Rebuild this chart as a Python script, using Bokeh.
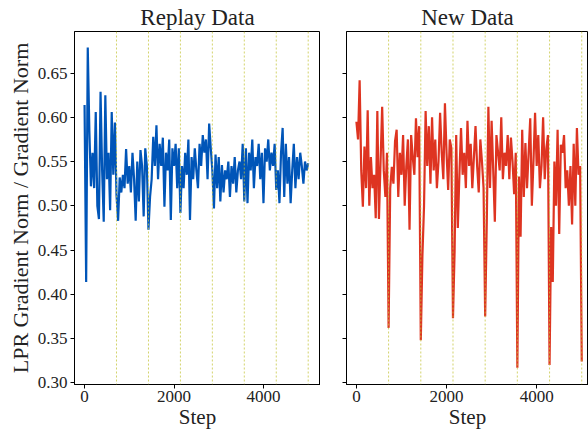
import numpy as np
from bokeh.plotting import figure
from bokeh.layouts import row
from bokeh.models import Range1d, FixedTicker, Span, PrintfTickFormatter
from bokeh.embed import file_html
from bokeh.resources import INLINE

# ---------------- data ----------------
n_points = 141
steps = np.linspace(0, 5000, n_points)
task_boundaries = [714, 1429, 2143, 2857, 3571, 4286, 5000]

replay_ratio = [
    0.614, 0.414, 0.679, 0.585, 0.522, 0.560, 0.520, 0.606, 0.500, 0.485,
    0.629, 0.540, 0.482, 0.625, 0.530, 0.560, 0.495, 0.606, 0.535, 0.594,
    0.512, 0.483, 0.532, 0.515, 0.535, 0.520, 0.564, 0.525, 0.545, 0.515,
    0.560, 0.530, 0.483, 0.550, 0.505, 0.563, 0.545, 0.488, 0.565, 0.545,
    0.473, 0.510, 0.530, 0.578, 0.545, 0.591, 0.530, 0.570, 0.545, 0.577,
    0.499, 0.560, 0.540, 0.575, 0.484, 0.565, 0.545, 0.570, 0.520, 0.565,
    0.492, 0.545, 0.520, 0.560, 0.535, 0.575, 0.484, 0.555, 0.530, 0.565,
    0.540, 0.520, 0.570, 0.545, 0.580, 0.560, 0.575, 0.530, 0.593, 0.565,
    0.540, 0.497, 0.558, 0.520, 0.555, 0.505, 0.546, 0.515, 0.540, 0.530,
    0.550, 0.510, 0.545, 0.525, 0.555, 0.515, 0.540, 0.550, 0.530, 0.570,
    0.505, 0.565, 0.503, 0.560, 0.540, 0.575, 0.520, 0.555, 0.545, 0.570,
    0.530, 0.560, 0.503, 0.565, 0.550, 0.575, 0.540, 0.560, 0.545, 0.570,
    0.518, 0.540, 0.503, 0.560, 0.588, 0.510, 0.570, 0.525, 0.555, 0.503,
    0.540, 0.570, 0.520, 0.555, 0.530, 0.560, 0.545, 0.525, 0.550, 0.540,
    0.548,
]

new_ratio = [
    0.595, 0.575, 0.642, 0.540, 0.499, 0.567, 0.520, 0.608, 0.500, 0.555,
    0.520, 0.535, 0.486, 0.607, 0.485, 0.550, 0.612, 0.540, 0.510, 0.560,
    0.362, 0.520, 0.544, 0.525, 0.573, 0.586, 0.510, 0.560, 0.535, 0.580,
    0.500, 0.545, 0.575, 0.473, 0.580, 0.555, 0.535, 0.599, 0.555, 0.590,
    0.348, 0.443, 0.499, 0.607, 0.545, 0.590, 0.525, 0.600, 0.540, 0.575,
    0.520, 0.550, 0.605, 0.560, 0.530, 0.616, 0.560, 0.518, 0.575, 0.565,
    0.373, 0.448, 0.580, 0.475, 0.536, 0.588, 0.535, 0.560, 0.520, 0.596,
    0.545, 0.570, 0.520, 0.555, 0.590, 0.545, 0.515, 0.575, 0.550, 0.520,
    0.375, 0.482, 0.612, 0.520, 0.596, 0.540, 0.482, 0.580, 0.560, 0.540,
    0.600, 0.530, 0.560, 0.545, 0.580, 0.530, 0.577, 0.550, 0.513, 0.560,
    0.317, 0.533, 0.465, 0.586, 0.510, 0.571, 0.520, 0.560, 0.599, 0.500,
    0.550, 0.605, 0.545, 0.580, 0.520, 0.545, 0.600, 0.530, 0.565, 0.580,
    0.320, 0.476, 0.414, 0.550, 0.500, 0.586, 0.468, 0.569, 0.560, 0.580,
    0.520, 0.540, 0.500, 0.545, 0.479, 0.570, 0.500, 0.588, 0.535, 0.545,
    0.324,
]

y_ticks = [0.30, 0.35, 0.40, 0.45, 0.50, 0.55, 0.60, 0.65]
x_ticks = [0, 2000, 4000]

# ---------------- style ----------------
FONT = "Liberation Serif"
BLUE = "#0055b8"
RED = "#de3421"
VLINE = "#c4c43a"
Y_RANGE = (0.298, 0.697)


def style(p, show_ylabels):
    p.outline_line_color = "black"
    p.outline_line_width = 1
    p.xgrid.visible = False
    p.ygrid.visible = False
    p.background_fill_color = "white"
    p.border_fill_color = "white"
    p.title.text_font = FONT
    p.title.text_font_size = "23px"
    p.title.text_font_style = "normal"
    p.title.align = "center"
    p.title.text_color = "#222222"
    p.title.standoff = 4
    for ax in (p.xaxis[0], p.yaxis[0]):
        ax.axis_line_color = "black"
        ax.major_tick_line_color = "black"
        ax.major_tick_in = 0
        ax.major_tick_out = 4
        ax.minor_tick_line_color = None
        ax.major_label_text_font = FONT
        ax.major_label_text_font_size = "17px"
        ax.major_label_text_color = "#222222"
        ax.axis_label_text_font = FONT
        ax.axis_label_text_font_style = "normal"
        ax.axis_label_text_color = "#222222"
        ax.major_label_standoff = 3
    p.xaxis[0].ticker = FixedTicker(ticks=x_ticks)
    p.xaxis[0].major_label_standoff = 2
    p.yaxis[0].ticker = FixedTicker(ticks=y_ticks)
    p.yaxis[0].formatter = PrintfTickFormatter(format="%.2f")
    p.xaxis[0].axis_label = "Step"
    p.xaxis[0].axis_label_text_font_size = "21px"
    p.xaxis[0].axis_label_standoff = 0
    if show_ylabels:
        p.yaxis[0].axis_label = "LPR Gradient Norm / Gradient Norm"
        p.yaxis[0].axis_label_text_font_size = "22px"
        p.yaxis[0].axis_label_standoff = 2
    else:
        p.yaxis[0].major_label_text_color = None
        p.yaxis[0].major_label_text_font_size = "1px"
    for b in task_boundaries:
        p.add_layout(Span(location=b, dimension="height", line_color=VLINE,
                          line_alpha=0.75, line_width=1, line_dash="2 2"))


H = 431
left = figure(width=320, height=H, title="Replay Data",
              x_range=Range1d(-225, 5275), y_range=Range1d(*Y_RANGE),
              output_backend="svg", toolbar_location=None,
              min_border_left=74, min_border_right=0, min_border_top=0,
              min_border_bottom=0)
left.line(steps, replay_ratio, line_color=BLUE, line_width=2.2)
style(left, True)

right = figure(width=268, height=H, title="New Data",
               x_range=Range1d(-220, 5150), y_range=left.y_range,
               output_backend="svg", toolbar_location=None,
               min_border_left=26, min_border_right=0, min_border_top=0,
               min_border_bottom=0)
right.line(steps, new_ratio, line_color=RED, line_width=2.2)
style(right, False)

layout = row(left, right, spacing=0)
open("out.html", "w").write(file_html(layout, INLINE))
